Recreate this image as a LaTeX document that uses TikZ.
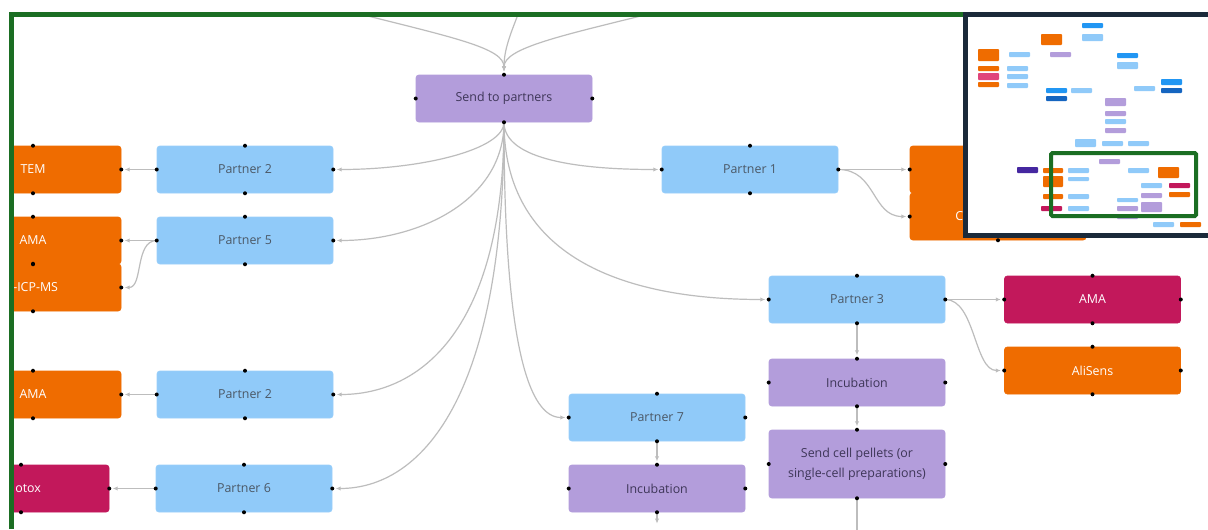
\documentclass[tikz,border=0pt]{standalone}
\usepackage{fontspec}
\setmainfont{Open Sans}
\usetikzlibrary{arrows.meta}
\definecolor{pblue}{HTML}{90CAF9}
\definecolor{ppurple}{HTML}{B39DDB}
\definecolor{porange}{HTML}{EF6C00}
\definecolor{pmagenta}{HTML}{C2185B}
\definecolor{framegreen}{HTML}{1B6E23}
\definecolor{mapnavy}{HTML}{1B2A3A}
\definecolor{conngrey}{HTML}{BDBDBD}
\definecolor{bluetext}{HTML}{4B5866}
\definecolor{purpletext}{HTML}{3E3658}
\definecolor{mblue}{HTML}{2196F3}
\definecolor{mdblue}{HTML}{1565C0}
\definecolor{mdpurple}{HTML}{4527A0}
\definecolor{mpink}{HTML}{E0457B}
\tikzset{
  boxbase/.style={rounded corners=2pt, minimum width=132pt, minimum height=35.25pt, inner sep=0pt, font=\fontsize{9.3}{15}\selectfont, align=center},
  bluebox/.style={boxbase, fill=pblue, draw=pblue!90!white, text=bluetext},
  purplebox/.style={boxbase, fill=ppurple, draw=ppurple, text=purpletext},
  orangebox/.style={boxbase, fill=porange, draw=porange, text=white},
  magentabox/.style={boxbase, fill=pmagenta, draw=pmagenta, text=white},
  cuttext/.style={inner sep=0pt, text=white, font=\fontsize{9.3}{11}\selectfont},
  conn/.style={draw=conngrey, line width=0.9pt, -{Latex[length=3.6pt,width=3.2pt]}, shorten >=2.6pt},
  plainconn/.style={draw=conngrey, line width=0.9pt},
  port/.style={fill=black},
  mm/.style={rounded corners=0.6pt}
}
\begin{document}
\begin{tikzpicture}[x=0.75pt,y=-0.75pt]
\useasboundingbox (0,0) rectangle (1208,529);
\fill[white] (0,0) rectangle (1208,529);
\begin{scope}
\clip (12,14) rectangle (1208,529);
% nodes
\node[purplebox] (stp) at (504,98.5) {Send to partners};
\node[bluebox] (p2a) at (245,169.5) {Partner 2};
\node[bluebox] (p5) at (245,240.5) {Partner 5};
\node[bluebox] (p2b) at (245,394.5) {Partner 2};
\node[bluebox] (p6) at (244,488.5) {Partner 6};
\node[orangebox] (tem) at (33,169.5) {TEM};
\node[orangebox] (ama1) at (33,240.5) {AMA};
\node[orangebox] (icp) at (33,287.5) {};
\node[cuttext, anchor=west] (icpt) at (13,287.5) {-ICP-MS};
\node[orangebox] (ama2) at (33,394.5) {AMA};
\node[magentabox] (ctx) at (21,488.5) {};
\node[cuttext, anchor=west] (ctxt) at (15,488.5) {otox};
\node[bluebox] (p1) at (750,169.5) {Partner 1};
\node[orangebox] (or1) at (998,169.5) {};
\node[orangebox] (or2) at (998,216.5) {};
\node[cuttext, anchor=west] (or2t) at (955,216.5) {C};
\node[bluebox] (p3) at (857,299.5) {Partner 3};
\node[magentabox] (ama3) at (1092.5,299.5) {AMA};
\node[orangebox] (ali) at (1092.5,370.5) {AliSens};
\node[purplebox] (inc1) at (857,382.5) {Incubation};
\node[purplebox, minimum height=51pt] (scp) at (857,464) {Send cell pellets (or\\single-cell preparations)};
\node[bluebox] (p7) at (657,417.5) {Partner 7};
\node[purplebox] (inc2) at (657,488.5) {Incubation};
% free ends
\coordinate (ta) at (352,12);
\coordinate (tb) at (519,12);
\coordinate (tc) at (657,12);
\coordinate (b1) at (657,527);
\coordinate (b2) at (857,540);
% connectors
\draw[conn] (ta) .. controls (455,38) and (504,48) .. (stp.north);
\draw[conn] (tb) .. controls (510,35) and (504,50) .. (stp.north);
\draw[conn] (tc) .. controls (560,36) and (504,48) .. (stp.north);
\draw[conn] (stp.south) .. controls (504,150) and (420,169.5) .. (p2a.east);
\draw[conn] (stp.south) .. controls (504,200) and (420,240.5) .. (p5.east);
\draw[conn] (stp.south) .. controls (504,330) and (420,394.5) .. (p2b.east);
\draw[conn] (stp.south) .. controls (504,400) and (420,488.5) .. (p6.east);
\draw[conn] (stp.south) .. controls (504,350) and (530,417.5) .. (p7.west);
\draw[conn] (stp.south) .. controls (504,160) and (580,169.5) .. (p1.west);
\draw[conn] (stp.south) .. controls (504,255) and (620,299.5) .. (p3.west);
\draw[conn] (p2a.west) -- (tem.east);
\draw[conn] (p5.west) -- (ama1.east);
\draw[conn] (p5.west) .. controls +(-22,0) and +(22,0) .. (icp.east);
\draw[conn] (p2b.west) -- (ama2.east);
\draw[conn] (p6.west) -- (ctx.east);
\draw[conn] (p1.east) -- (or1.west);
\draw[conn] (p1.east) .. controls +(38,0) and +(-38,0) .. (or2.west);
\draw[conn] (p3.east) -- (ama3.west);
\draw[conn] (p3.east) .. controls +(30,0) and +(-30,0) .. (ali.west);
\draw[conn] (p3.south) -- (inc1.north);
\draw[conn] (inc1.south) -- (scp.north);
\draw[conn] (p7.south) -- (inc2.north);
\draw[conn] (inc2.south) -- (b1);
\draw[plainconn] (scp.south) -- (b2);
% ports
\foreach \n in {stp,p2a,p5,p2b,p6,tem,ama1,icp,ama2,ctx,p1,or1,or2,p3,ama3,ali,inc1,scp,p7,inc2}
  \foreach \a in {north,south,east,west}
    \fill[port] (\n.\a) circle (1.5pt);
\end{scope}
% green viewport frame
\draw[framegreen, line width=3.4pt] (11.7,529) -- (11.7,14.5) -- (1000,14.5);
% minimap
\fill[white] (963,12) rectangle (1208,238);
\draw[mapnavy, line width=3.8pt] (965.5,14.5) rectangle (1212,235.5);
\begin{scope}[mm]
\fill[mblue] (1082,23) rectangle (1103,28);
\fill[pblue] (1082,34) rectangle (1103,41);
\fill[porange] (1041,34) rectangle (1062,45);
\fill[ppurple] (1050,52) rectangle (1071,57);
\fill[pblue] (1009,52) rectangle (1030,57);
\fill[porange] (978,49) rectangle (999,61);
\fill[porange] (978,66) rectangle (999,71);
\fill[mpink] (978,73) rectangle (999,80);
\fill[porange] (978,82) rectangle (999,87);
\fill[pblue] (1007,66) rectangle (1028,71);
\fill[pblue] (1007,74) rectangle (1028,79);
\fill[pblue] (1007,83) rectangle (1028,88);
\fill[mblue] (1117,53) rectangle (1138,58);
\fill[pblue] (1117,62) rectangle (1138,69);
\fill[mblue] (1046,88) rectangle (1067,93);
\fill[mdblue] (1046,96) rectangle (1067,101);
\fill[pblue] (1071,88) rectangle (1092,93);
\fill[pblue] (1134,86) rectangle (1155,91);
\fill[mblue] (1161,79) rectangle (1182,85);
\fill[mdblue] (1161,88) rectangle (1182,93);
\fill[ppurple] (1105,98) rectangle (1126,106);
\fill[ppurple] (1105,111) rectangle (1126,116);
\fill[pblue] (1105,119) rectangle (1126,124);
\fill[ppurple] (1105,128) rectangle (1126,133);
\fill[pblue] (1075,139) rectangle (1096,147);
\fill[pblue] (1102,141) rectangle (1123,146);
\fill[pblue] (1128,141) rectangle (1149,146);
\fill[ppurple] (1099,159) rectangle (1120,164);
\fill[mdpurple] (1017,167) rectangle (1038,173);
\fill[porange] (1043,168) rectangle (1063,173);
\fill[pblue] (1068,168) rectangle (1089,173);
\fill[porange] (1043,176) rectangle (1063,187);
\fill[pblue] (1068,177) rectangle (1089,181);
\fill[pblue] (1128,168) rectangle (1149,173);
\fill[porange] (1158,167) rectangle (1179,178);
\fill[pblue] (1141,183) rectangle (1162,188);
\fill[pmagenta] (1169,183) rectangle (1190,188);
\fill[porange] (1169,192) rectangle (1190,197);
\fill[ppurple] (1141,193) rectangle (1162,198);
\fill[ppurple] (1141,202) rectangle (1162,212);
\fill[porange] (1043,194) rectangle (1063,199);
\fill[pblue] (1068,194) rectangle (1089,199);
\fill[pmagenta] (1041,206) rectangle (1062,211);
\fill[pblue] (1068,206) rectangle (1089,211);
\fill[pblue] (1117,198) rectangle (1138,202);
\fill[ppurple] (1117,206) rectangle (1138,211);
\fill[ppurple] (1117,214) rectangle (1138,219);
\fill[pblue] (1153,222) rectangle (1174,227);
\fill[porange] (1180,222) rectangle (1201,227);
\end{scope}
\draw[framegreen, line width=3pt, rounded corners=1pt] (1051,153) rectangle (1196,216);
\end{tikzpicture}
\end{document}
